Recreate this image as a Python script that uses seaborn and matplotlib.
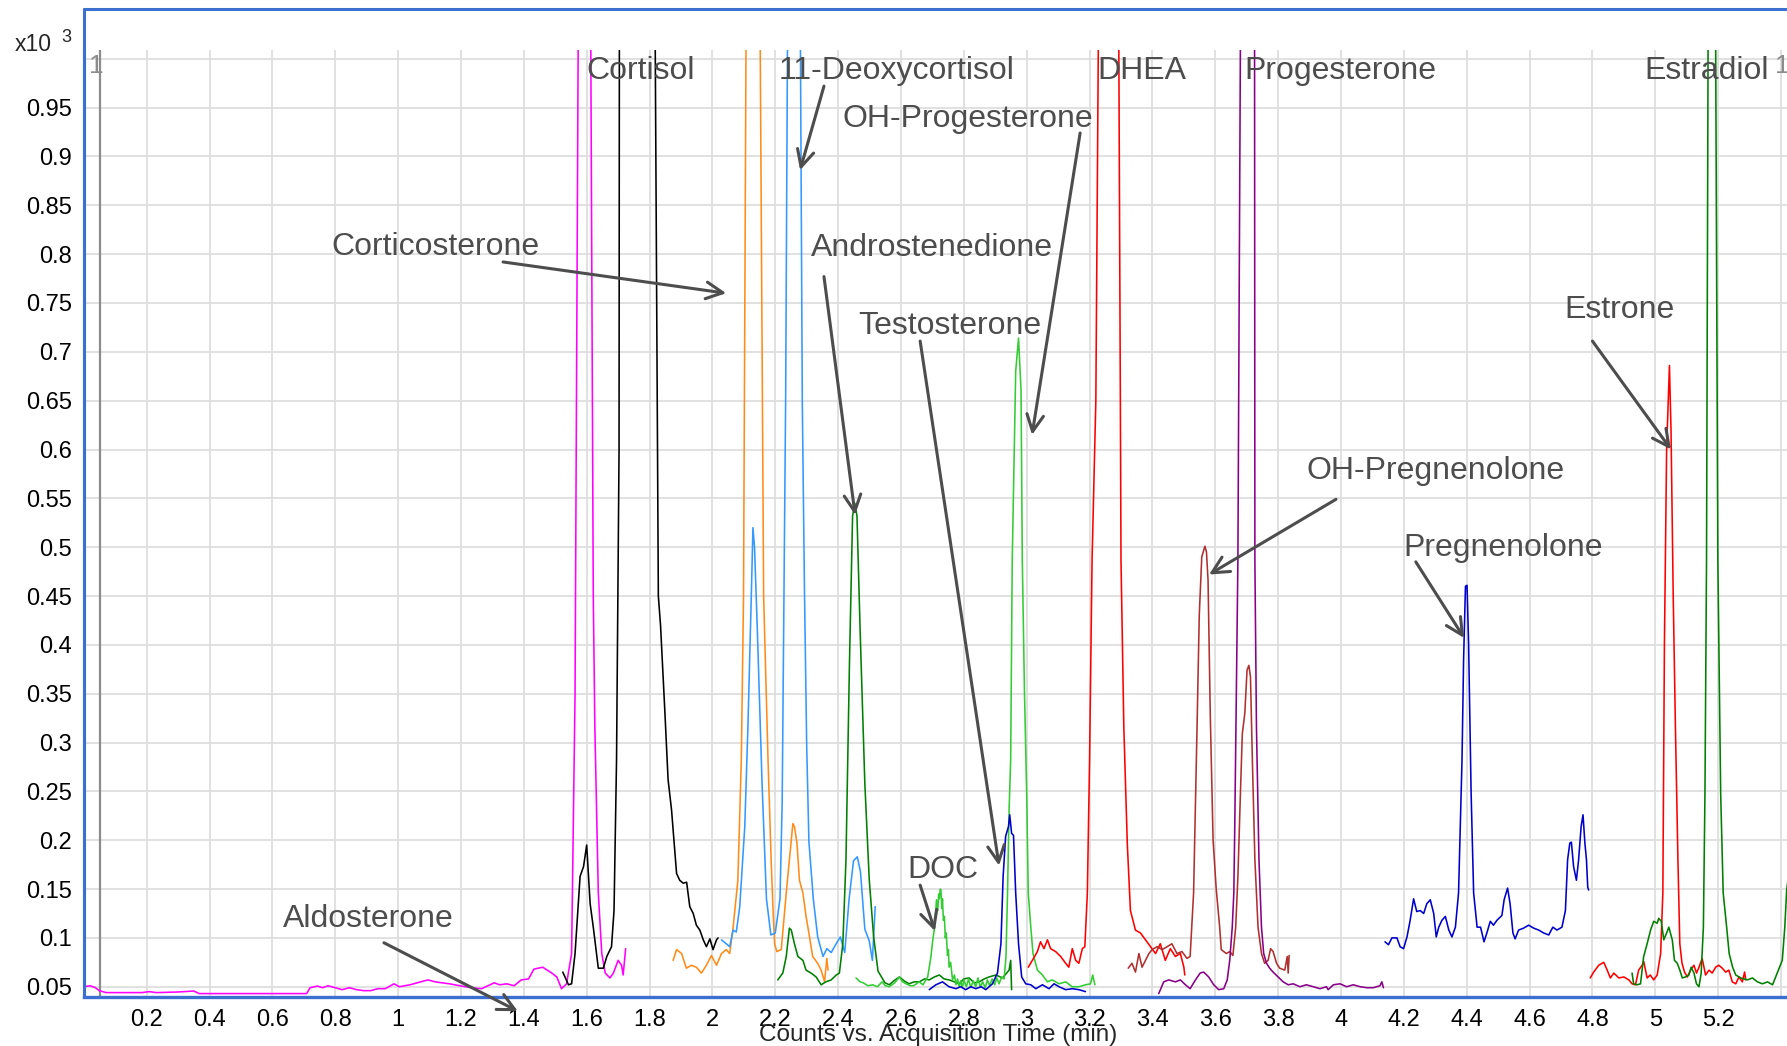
import numpy as np
import pandas as pd
import matplotlib
matplotlib.use("Agg")
import matplotlib.pyplot as plt
from matplotlib.lines import Line2D
import seaborn as sns

# ---------------- chromatogram traces (time in min, counts x10^3) ----------------
aldosterone_t = [0.0, 0.02, 0.037, 0.049, 0.071, 0.185, 0.208, 0.231, 0.299, 0.35, 0.367, 0.709,
                 0.72, 0.743, 0.76, 0.777, 0.8, 0.822, 0.845, 0.868, 0.89, 0.913, 0.935, 0.959,
                 0.987, 1.004, 1.038, 1.072, 1.095, 1.118, 1.14, 1.163, 1.197, 1.232, 1.266,
                 1.306, 1.323, 1.346, 1.369, 1.392, 1.415, 1.432, 1.46, 1.489, 1.505, 1.52,
                 1.536, 1.552, 1.563, 1.573, 1.593, 1.613, 1.621, 1.626, 1.637, 1.648, 1.659,
                 1.674, 1.685, 1.70, 1.711, 1.716, 1.724]
aldosterone_v = [0.05, 0.051, 0.049, 0.046, 0.044, 0.044, 0.045, 0.044, 0.0446, 0.0456, 0.043, 0.043,
                 0.049, 0.0507, 0.049, 0.051, 0.049, 0.047, 0.049, 0.047, 0.046, 0.046, 0.048, 0.048,
                 0.053, 0.05, 0.052, 0.055, 0.057, 0.055, 0.054, 0.053, 0.051, 0.049, 0.048,
                 0.054, 0.052, 0.053, 0.051, 0.057, 0.058, 0.068, 0.07, 0.064, 0.06, 0.048,
                 0.053, 0.084, 0.35, 1.02, 1.6, 1.02, 0.45, 0.316, 0.146, 0.084, 0.064,
                 0.059, 0.064, 0.077, 0.072, 0.062, 0.089]

cortisol_t = [1.524, 1.542, 1.552, 1.563, 1.579, 1.59, 1.60, 1.611, 1.621, 1.637, 1.653, 1.664,
              1.679, 1.687, 1.695, 1.703, 1.704, 1.76, 1.818, 1.828, 1.835, 1.849, 1.859, 1.87,
              1.886, 1.896, 1.907, 1.918, 1.928, 1.939, 1.949, 1.96, 1.971, 1.981, 1.992, 2.002,
              2.013, 2.018]
cortisol_v = [0.065, 0.052, 0.053, 0.084, 0.163, 0.173, 0.195, 0.135, 0.111, 0.069, 0.069, 0.081,
              0.091, 0.128, 0.282, 0.6, 1.02, 1.5, 1.02, 0.45, 0.42, 0.33, 0.262, 0.231,
              0.166, 0.159, 0.156, 0.157, 0.132, 0.125, 0.113, 0.108, 0.098, 0.091, 0.099, 0.088,
              0.098, 0.1]

corticosterone_t = [1.875, 1.886, 1.902, 1.917, 1.933, 1.949, 1.965, 1.981, 1.997, 2.013, 2.029,
                    2.044, 2.055, 2.066, 2.081, 2.092, 2.099, 2.107, 2.13, 2.152, 2.163, 2.177,
                    2.187, 2.193, 2.198, 2.205, 2.219, 2.235, 2.245, 2.256, 2.261, 2.269, 2.277,
                    2.288, 2.298, 2.309, 2.319, 2.335, 2.346, 2.357, 2.364, 2.368]
corticosterone_v = [0.077, 0.088, 0.084, 0.069, 0.072, 0.07, 0.064, 0.072, 0.082, 0.072, 0.084,
                    0.088, 0.084, 0.111, 0.159, 0.282, 0.45, 1.02, 1.5, 1.02, 0.45, 0.282,
                    0.179, 0.128, 0.094, 0.086, 0.088, 0.146, 0.18, 0.217, 0.214, 0.197, 0.159,
                    0.146, 0.122, 0.101, 0.081, 0.074, 0.067, 0.055, 0.079, 0.067]

deoxycortisol_t = [2.029, 2.044, 2.055, 2.066, 2.076, 2.087, 2.103, 2.113, 2.124, 2.129, 2.134,
                   2.143, 2.158, 2.172, 2.186, 2.2, 2.215, 2.222, 2.233, 2.239, 2.26, 2.28, 2.286,
                   2.293, 2.3, 2.307, 2.321, 2.335, 2.352, 2.364, 2.378, 2.392, 2.407, 2.421,
                   2.435, 2.449, 2.461, 2.471, 2.485, 2.499, 2.509, 2.518]
deoxycortisol_v = [0.098, 0.094, 0.091, 0.108, 0.106, 0.132, 0.214, 0.316, 0.453, 0.52, 0.5,
                   0.415, 0.258, 0.14, 0.103, 0.105, 0.14, 0.238, 0.65, 1.02, 1.5, 1.02, 0.65,
                   0.454, 0.297, 0.199, 0.14, 0.101, 0.081, 0.089, 0.085, 0.093, 0.101, 0.085,
                   0.14, 0.179, 0.183, 0.168, 0.109, 0.097, 0.077, 0.132]

androstenedione_t = [2.208, 2.224, 2.235, 2.245, 2.251, 2.261, 2.272, 2.288, 2.298, 2.314, 2.33,
                     2.346, 2.361, 2.378, 2.394, 2.404, 2.415, 2.425, 2.436, 2.446, 2.453, 2.46,
                     2.47, 2.485, 2.499, 2.513, 2.527, 2.549, 2.563, 2.577, 2.595, 2.61, 2.626,
                     2.642, 2.658, 2.675, 2.69, 2.706, 2.722, 2.737, 2.753, 2.77, 2.785, 2.80,
                     2.817, 2.833, 2.849, 2.865, 2.88, 2.902, 2.923, 2.944, 2.949, 2.952]
androstenedione_v = [0.057, 0.064, 0.081, 0.11, 0.108, 0.094, 0.081, 0.077, 0.067, 0.064, 0.06,
                     0.052, 0.055, 0.057, 0.062, 0.064, 0.094, 0.18, 0.38, 0.532, 0.545, 0.532,
                     0.415, 0.258, 0.16, 0.101, 0.066, 0.054, 0.052, 0.056, 0.06, 0.056, 0.053,
                     0.055, 0.055, 0.058, 0.057, 0.06, 0.062, 0.058, 0.057, 0.055, 0.053, 0.058,
                     0.059, 0.054, 0.055, 0.058, 0.06, 0.062, 0.059, 0.067, 0.077, 0.047]

doc_ohp_t = [2.457, 2.47, 2.48, 2.495, 2.51, 2.525, 2.54, 2.55, 2.563, 2.58, 2.595, 2.605, 2.616,
             2.63, 2.64, 2.658, 2.67, 2.685, 2.695, 2.702, 2.706, 2.71, 2.713, 2.717, 2.72, 2.722,
             2.725, 2.727, 2.73, 2.732, 2.735, 2.738, 2.741, 2.744, 2.748, 2.751, 2.753, 2.758,
             2.764, 2.77, 2.775, 2.78, 2.785, 2.79, 2.795, 2.80, 2.808, 2.815, 2.822, 2.83, 2.838,
             2.845, 2.852, 2.86, 2.868, 2.875, 2.882, 2.89, 2.898, 2.905, 2.912, 2.92, 2.928,
             2.934, 2.939, 2.944, 2.949, 2.954, 2.965, 2.974, 2.982, 2.986, 2.993, 3.0, 3.005,
             3.013, 3.02, 3.034, 3.05, 3.066, 3.081, 3.103, 3.124, 3.145, 3.166, 3.187, 3.203,
             3.21, 3.217]
doc_ohp_v = [0.059, 0.055, 0.054, 0.051, 0.052, 0.05, 0.055, 0.051, 0.05, 0.054, 0.06, 0.055, 0.053,
             0.051, 0.051, 0.055, 0.052, 0.06, 0.08, 0.1, 0.108, 0.125, 0.139, 0.128, 0.145, 0.14,
             0.15, 0.149, 0.13, 0.14, 0.118, 0.122, 0.1, 0.105, 0.082, 0.088, 0.07, 0.075,
             0.057, 0.062, 0.052, 0.058, 0.05, 0.056, 0.049, 0.057, 0.05, 0.058, 0.049, 0.056, 0.05,
             0.059, 0.05, 0.055, 0.049, 0.057, 0.051, 0.058, 0.052, 0.059, 0.053, 0.06, 0.058,
             0.08, 0.146, 0.231, 0.282, 0.487, 0.68, 0.714, 0.66, 0.487, 0.35, 0.247, 0.146,
             0.111, 0.084, 0.067, 0.062, 0.055, 0.057, 0.053, 0.055, 0.05, 0.05, 0.052, 0.053,
             0.062, 0.052]

testosterone_t = [2.69, 2.711, 2.732, 2.753, 2.775, 2.79, 2.806, 2.822, 2.838, 2.855, 2.87, 2.891,
                  2.907, 2.918, 2.925, 2.933, 2.942, 2.946, 2.952, 2.958, 2.965, 2.974, 2.984,
                  2.997, 3.013, 3.029, 3.05, 3.071, 3.087, 3.103, 3.124, 3.145, 3.166, 3.187]
testosterone_v = [0.047, 0.052, 0.055, 0.05, 0.048, 0.05, 0.047, 0.05, 0.048, 0.05, 0.047, 0.053,
                  0.064, 0.094, 0.163, 0.204, 0.214, 0.226, 0.207, 0.205, 0.146, 0.094, 0.06,
                  0.053, 0.052, 0.048, 0.052, 0.048, 0.053, 0.05, 0.047, 0.048, 0.047, 0.045]

dhea_t = [3.005, 3.018, 3.034, 3.044, 3.055, 3.066, 3.076, 3.092, 3.108, 3.124, 3.134, 3.145,
          3.156, 3.166, 3.177, 3.185, 3.193, 3.2, 3.208, 3.22, 3.228, 3.26, 3.293, 3.298, 3.3,
          3.309, 3.32, 3.33, 3.346, 3.362, 3.378, 3.394, 3.41, 3.425, 3.441, 3.457, 3.473,
          3.489, 3.5, 3.503]
dhea_v = [0.07, 0.077, 0.086, 0.096, 0.089, 0.098, 0.089, 0.086, 0.081, 0.074, 0.07, 0.089,
          0.077, 0.074, 0.089, 0.091, 0.146, 0.282, 0.487, 0.65, 1.02, 1.5, 1.02, 0.65, 0.487,
          0.316, 0.197, 0.128, 0.108, 0.105, 0.098, 0.091, 0.084, 0.094, 0.077, 0.089, 0.081,
          0.084, 0.07, 0.062]

oh_pregnenolone_t = [3.323, 3.335, 3.346, 3.357, 3.367, 3.378, 3.389, 3.399, 3.415, 3.431, 3.447,
                     3.462, 3.478, 3.494, 3.51, 3.52, 3.531, 3.542, 3.549, 3.557, 3.567, 3.572,
                     3.577, 3.584, 3.593, 3.603, 3.614, 3.619, 3.635, 3.646, 3.656, 3.665, 3.672,
                     3.68, 3.686, 3.694, 3.701, 3.707, 3.712, 3.718, 3.726, 3.736, 3.747, 3.757,
                     3.768, 3.776, 3.784, 3.795, 3.805, 3.821, 3.829, 3.832, 3.835]
oh_pregnenolone_v = [0.069, 0.074, 0.065, 0.084, 0.07, 0.077, 0.084, 0.088, 0.091, 0.088, 0.091,
                     0.094, 0.084, 0.086, 0.079, 0.081, 0.146, 0.316, 0.43, 0.49, 0.501, 0.495,
                     0.466, 0.33, 0.2, 0.15, 0.111, 0.088, 0.084, 0.086, 0.082, 0.111, 0.163,
                     0.248, 0.309, 0.33, 0.374, 0.379, 0.367, 0.282, 0.18, 0.111, 0.084, 0.074,
                     0.077, 0.089, 0.086, 0.074, 0.069, 0.067, 0.081, 0.064, 0.082]

progesterone_t = [3.42, 3.436, 3.452, 3.473, 3.489, 3.505, 3.52, 3.537, 3.552, 3.563, 3.579, 3.595,
                  3.611, 3.627, 3.638, 3.646, 3.654, 3.659, 3.662, 3.667, 3.672, 3.68, 3.70, 3.725,
                  3.726, 3.731, 3.739, 3.747, 3.754, 3.763, 3.773, 3.784, 3.8, 3.816, 3.832,
                  3.848, 3.869, 3.89, 3.912, 3.933, 3.954, 3.959, 3.976, 3.997, 4.018, 4.039,
                  4.061, 4.082, 4.103, 4.124, 4.13, 4.135]
progesterone_v = [0.043, 0.055, 0.057, 0.055, 0.057, 0.052, 0.048, 0.057, 0.064, 0.065, 0.06, 0.052,
                  0.047, 0.048, 0.057, 0.077, 0.111, 0.146, 0.214, 0.35, 0.487, 1.02, 1.5, 1.02,
                  0.487, 0.316, 0.18, 0.111, 0.084, 0.074, 0.069, 0.065, 0.06, 0.055, 0.052,
                  0.053, 0.05, 0.052, 0.05, 0.048, 0.05, 0.047, 0.052, 0.053, 0.05, 0.052,
                  0.05, 0.049, 0.049, 0.051, 0.055, 0.049]

pregnenolone_t = [4.14, 4.151, 4.162, 4.178, 4.188, 4.199, 4.21, 4.22, 4.231, 4.241, 4.252, 4.263,
                  4.273, 4.284, 4.295, 4.303, 4.311, 4.321, 4.332, 4.343, 4.353, 4.364, 4.374,
                  4.385, 4.39, 4.396, 4.401, 4.406, 4.414, 4.422, 4.433, 4.444, 4.455, 4.464,
                  4.475, 4.485, 4.496, 4.512, 4.519, 4.53, 4.538, 4.547, 4.554, 4.565, 4.581,
                  4.597, 4.613, 4.629, 4.645, 4.661, 4.674, 4.687, 4.703, 4.714, 4.721, 4.728,
                  4.733, 4.74, 4.749, 4.756, 4.764, 4.77, 4.776, 4.781, 4.785, 4.788]
pregnenolone_v = [0.096, 0.093, 0.1, 0.1, 0.091, 0.089, 0.101, 0.118, 0.14, 0.127, 0.128, 0.125,
                  0.135, 0.139, 0.125, 0.101, 0.111, 0.118, 0.122, 0.108, 0.101, 0.111, 0.146,
                  0.282, 0.384, 0.46, 0.461, 0.401, 0.248, 0.146, 0.111, 0.111, 0.096, 0.105,
                  0.117, 0.113, 0.118, 0.123, 0.139, 0.151, 0.135, 0.105, 0.099, 0.108, 0.11,
                  0.113, 0.11, 0.108, 0.105, 0.103, 0.111, 0.108, 0.111, 0.128, 0.18, 0.197,
                  0.198, 0.173, 0.159, 0.18, 0.214, 0.226, 0.197, 0.18, 0.152, 0.149]

estrone_t = [4.793, 4.804, 4.82, 4.836, 4.847, 4.857, 4.868, 4.884, 4.9, 4.916, 4.926, 4.937, 4.947,
             4.958, 4.963, 4.974, 4.984, 4.995, 5.006, 5.017, 5.024, 5.029, 5.036, 5.045, 5.05,
             5.057, 5.064, 5.072, 5.078, 5.085, 5.093, 5.102, 5.112, 5.123, 5.131, 5.138, 5.149,
             5.16, 5.171, 5.181, 5.192, 5.202, 5.213, 5.224, 5.234, 5.245, 5.256, 5.266, 5.277,
             5.284, 5.288]
estrone_v = [0.059, 0.065, 0.072, 0.075, 0.067, 0.059, 0.064, 0.059, 0.06, 0.057, 0.053, 0.052, 0.067,
             0.072, 0.076, 0.059, 0.062, 0.057, 0.062, 0.084, 0.146, 0.4, 0.6, 0.686, 0.62,
             0.45, 0.316, 0.18, 0.094, 0.074, 0.065, 0.06, 0.067, 0.072, 0.064, 0.069, 0.079,
             0.062, 0.067, 0.064, 0.07, 0.072, 0.069, 0.065, 0.067, 0.055, 0.053, 0.06, 0.055,
             0.065, 0.057]

estradiol_t = [4.926, 4.931, 4.942, 4.953, 4.963, 4.974, 4.985, 4.995, 5.006, 5.011, 5.019, 5.027,
               5.036, 5.043, 5.054, 5.061, 5.07, 5.078, 5.086, 5.096, 5.107, 5.114, 5.123, 5.131,
               5.139, 5.146, 5.153, 5.158, 5.163, 5.168, 5.18, 5.192, 5.199, 5.208, 5.216, 5.227,
               5.235, 5.246, 5.256, 5.272, 5.293, 5.309, 5.325, 5.341, 5.357, 5.373, 5.383,
               5.394, 5.404, 5.412, 5.418, 5.422]
estradiol_v = [0.064, 0.053, 0.052, 0.053, 0.081, 0.094, 0.108, 0.117, 0.115, 0.12, 0.117, 0.098,
               0.105, 0.111, 0.098, 0.077, 0.074, 0.067, 0.059, 0.06, 0.062, 0.07, 0.064, 0.053,
               0.05, 0.064, 0.111, 0.248, 0.487, 1.02, 1.5, 1.02, 0.487, 0.248, 0.146, 0.111,
               0.084, 0.07, 0.062, 0.059, 0.057, 0.059, 0.055, 0.053, 0.055, 0.052, 0.06,
               0.069, 0.077, 0.111, 0.149, 0.159]

x_ticks = [0.2, 0.4, 0.6, 0.8, 1.0, 1.2, 1.4, 1.6, 1.8, 2.0, 2.2, 2.4, 2.6, 2.8, 3.0, 3.2, 3.4,
           3.6, 3.8, 4.0, 4.2, 4.4, 4.6, 4.8, 5.0, 5.2, 5.4]
y_ticks = [0.05, 0.1, 0.15, 0.2, 0.25, 0.3, 0.35, 0.4, 0.45, 0.5, 0.55, 0.6, 0.65, 0.7, 0.75,
           0.8, 0.85, 0.9, 0.95, 1.0]

traces = [
    ("Aldosterone", aldosterone_t, aldosterone_v, "#ff00ff"),
    ("Cortisol", cortisol_t, cortisol_v, "#000000"),
    ("Corticosterone", corticosterone_t, corticosterone_v, "#ff8c1a"),
    ("11-Deoxycortisol", deoxycortisol_t, deoxycortisol_v, "#3399ff"),
    ("Androstenedione", androstenedione_t, androstenedione_v, "#008000"),
    ("DOC / OH-Progesterone", doc_ohp_t, doc_ohp_v, "#33cc33"),
    ("Testosterone", testosterone_t, testosterone_v, "#0000cc"),
    ("DHEA", dhea_t, dhea_v, "#ff0000"),
    ("OH-Pregnenolone", oh_pregnenolone_t, oh_pregnenolone_v, "#b03030"),
    ("Progesterone", progesterone_t, progesterone_v, "#880088"),
    ("Pregnenolone", pregnenolone_t, pregnenolone_v, "#0000cc"),
    ("Estrone", estrone_t, estrone_v, "#ff0000"),
    ("Estradiol", estradiol_t, estradiol_v, "#008000"),
]

df = pd.concat(
    [pd.DataFrame({"time": t, "counts": v, "trace": name}) for name, t, v, _ in traces],
    ignore_index=True,
)
palette = {name: c for name, _, _, c in traces}

sns.set_style("white")
plt.rcParams["font.family"] = ["Liberation Sans", "DejaVu Sans"]

W, H = 1787, 1046
X0, YB, YT = 83.8, 996.7, 50.0   # axes box in pixels
fig = plt.figure(figsize=(W / 100, H / 100), dpi=100)
ax = fig.add_axes([X0 / W, 1 - YB / H, 1 - X0 / W, (YB - YT) / H])

sns.lineplot(data=df, x="time", y="counts", hue="trace", palette=palette,
             estimator=None, sort=False, lw=1.15, legend=False, ax=ax)

ax.set_xlim(0, (W - X0) / 314.3)
ax.set_ylim(0.0398, 1.009)

ax.set_xticks(x_ticks)
ax.set_xticklabels([f"{x:g}" if x < 5.3 else "" for x in x_ticks])
ax.set_yticks(y_ticks)
ax.set_yticklabels([f"{y:g}" if y < 0.99 else "" for y in y_ticks])
ax.grid(True, color="#dedede", lw=1.3)
ax.set_axisbelow(True)
ax.tick_params(axis="both", direction="out", length=4.5, width=1, color="black",
               labelsize=17, pad=4, labelcolor="black")
ax.set_xlabel("")
ax.set_ylabel("")

frame_blue = "#3b6fd0"
for side in ("top", "right"):
    ax.spines[side].set_visible(False)
ax.spines["left"].set_color(frame_blue)
ax.spines["left"].set_linewidth(2.2)
ax.spines["bottom"].set_color(frame_blue)
ax.spines["bottom"].set_linewidth(2.4)

# outer panel frame above the plot area
fig.add_artist(Line2D([X0 / W, X0 / W], [1 - YB / H, 1 - 9 / H], transform=fig.transFigure,
                      color=frame_blue, lw=2.2))
fig.add_artist(Line2D([X0 / W, 1.0], [1 - 9 / H, 1 - 9 / H], transform=fig.transFigure,
                      color=frame_blue, lw=2.2))

# range marker
ax.axvline(0.052, color="#8c8c8c", lw=1.6, zorder=1.5)
fig.text(89 / W, 1 - 73 / H, "1", color="#8c8c8c", fontsize=19, va="baseline")
fig.text(1775 / W, 1 - 73 / H, "1", color="#8c8c8c", fontsize=19, va="baseline")

# axis captions
fig.text(15 / W, 1 - 51 / H, "x10", fontsize=16.5, va="baseline")
fig.text(61 / W, 1 - 42 / H, "3", fontsize=13, va="baseline")
fig.text(938 / W, 1 - 1035 / H, "Counts vs. Acquisition Time (min)", fontsize=17.5,
         ha="center", va="center")

# peak labels
label_color = "#4d4d4d"
label_size = 23
dy = -0.0035
top_labels = [("Cortisol", 1.773), ("11-Deoxycortisol", 2.587), ("DHEA", 3.367),
              ("Progesterone", 3.997), ("Estradiol", 5.164)]
for text, x in top_labels:
    ax.text(x, 0.9915 + dy, text, ha="center", va="center", fontsize=label_size,
            color=label_color, zorder=5)

free_labels = [("Corticosterone", 1.118, 0.811), ("Androstenedione", 2.698, 0.81),
               ("Testosterone", 2.756, 0.73), ("OH-Progesterone", 2.814, 0.942),
               ("Estrone", 4.886, 0.746), ("OH-Pregnenolone", 4.302, 0.582),
               ("Pregnenolone", 4.515, 0.503), ("DOC", 2.733, 0.173),
               ("Aldosterone", 0.905, 0.123)]
for text, x, y in free_labels:
    ax.text(x, y + dy, text, ha="center", va="center", fontsize=label_size,
            color=label_color, zorder=5)

arrows = [((1.334, 0.792), (2.044, 0.76)),
          ((2.355, 0.972), (2.279, 0.886)),
          ((3.17, 0.924), (3.017, 0.615)),
          ((2.355, 0.777), (2.454, 0.533)),
          ((2.661, 0.711), (2.912, 0.174)),
          ((2.661, 0.154), (2.708, 0.107)),
          ((3.984, 0.549), (3.58, 0.472)),
          ((4.238, 0.485), (4.392, 0.407)),
          ((4.8, 0.711), (5.05, 0.6)),
          ((0.955, 0.095), (1.381, 0.025))]
for start, tip in arrows:
    ax.annotate("", xy=tip, xytext=start, annotation_clip=False,
                arrowprops=dict(arrowstyle="->", color=label_color, lw=2.2,
                                shrinkA=0, shrinkB=0, mutation_scale=30),
                zorder=6)

fig.savefig("out.png", dpi=100)
